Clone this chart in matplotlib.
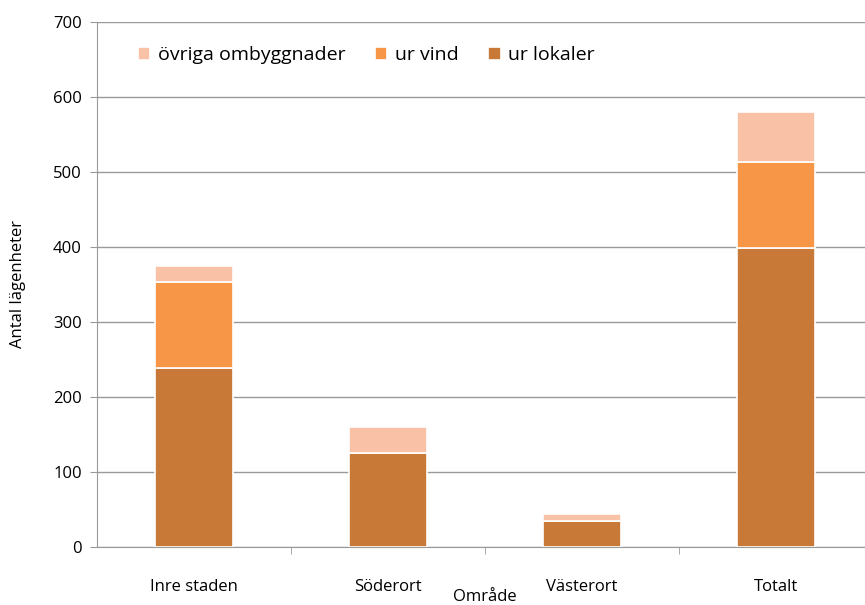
import matplotlib.pyplot as plt
import numpy as np

plt.rcParams['font.family'] = ['Open Sans', 'DejaVu Sans']

areas = ["Inre staden", "Söderort", "Västerort", "Totalt"]
ur_lokaler = [239, 125, 35, 399]
ur_vind = [114, 0, 0, 114]
ovriga = [22, 35, 9, 67]

c_lok = "#C87937"
c_vind = "#F79646"
c_ovr = "#F9C2A6"

fig = plt.figure(figsize=(8.65, 6.05), dpi=100)
ax = fig.add_axes([97 / 865, 58 / 605, 1 - 97 / 865, 525 / 605])

x = np.arange(len(areas))
w = 0.4
lok = np.array(ur_lokaler)
vind = np.array(ur_vind)
ovr = np.array(ovriga)

ax.bar(x, lok, w, color=c_lok, edgecolor="white", linewidth=1.2, label="ur lokaler", zorder=3)
ax.bar(x, vind, w, bottom=lok, color=c_vind, edgecolor="white", linewidth=1.2, label="ur vind", zorder=3)
ax.bar(x, ovr, w, bottom=lok + vind, color=c_ovr, edgecolor="white", linewidth=1.2,
       label="övriga ombyggnader", zorder=3)

ax.set_ylim(0, 700)
ax.set_xlim(-0.5, 3.46)
ax.set_yticks(range(0, 701, 100))
ax.yaxis.grid(True, color="#999999", linewidth=1, zorder=0)
ax.set_axisbelow(True)

ax.set_xticks(x)
ax.set_xticklabels(areas, fontsize=12)
ax.tick_params(axis="x", length=0, pad=23)
ax.set_xticks([0.5, 1.5, 2.5], minor=True)
ax.tick_params(axis="x", which="minor", length=5, color="#999999")
ax.tick_params(axis="y", labelsize=12, length=5, color="#999999", pad=6)

for s in ["top", "right"]:
    ax.spines[s].set_visible(False)
ax.spines["left"].set_color("#999999")
ax.spines["bottom"].set_color("#999999")

ax.set_ylabel("Antal lägenheter", fontsize=12, labelpad=19)
fig.text(485 / 865, 1 - 597 / 605, "Område", fontsize=12, ha="center", va="center")

handles, labels = ax.get_legend_handles_labels()
ax.legend(handles[::-1], labels[::-1], loc="center left", bbox_to_anchor=(0.03, 0.937),
          ncol=3, frameon=False, fontsize=14, handlelength=0.65, handleheight=0.65,
          handletextpad=0.4, columnspacing=1.5)

fig.savefig("out.png", dpi=100)
